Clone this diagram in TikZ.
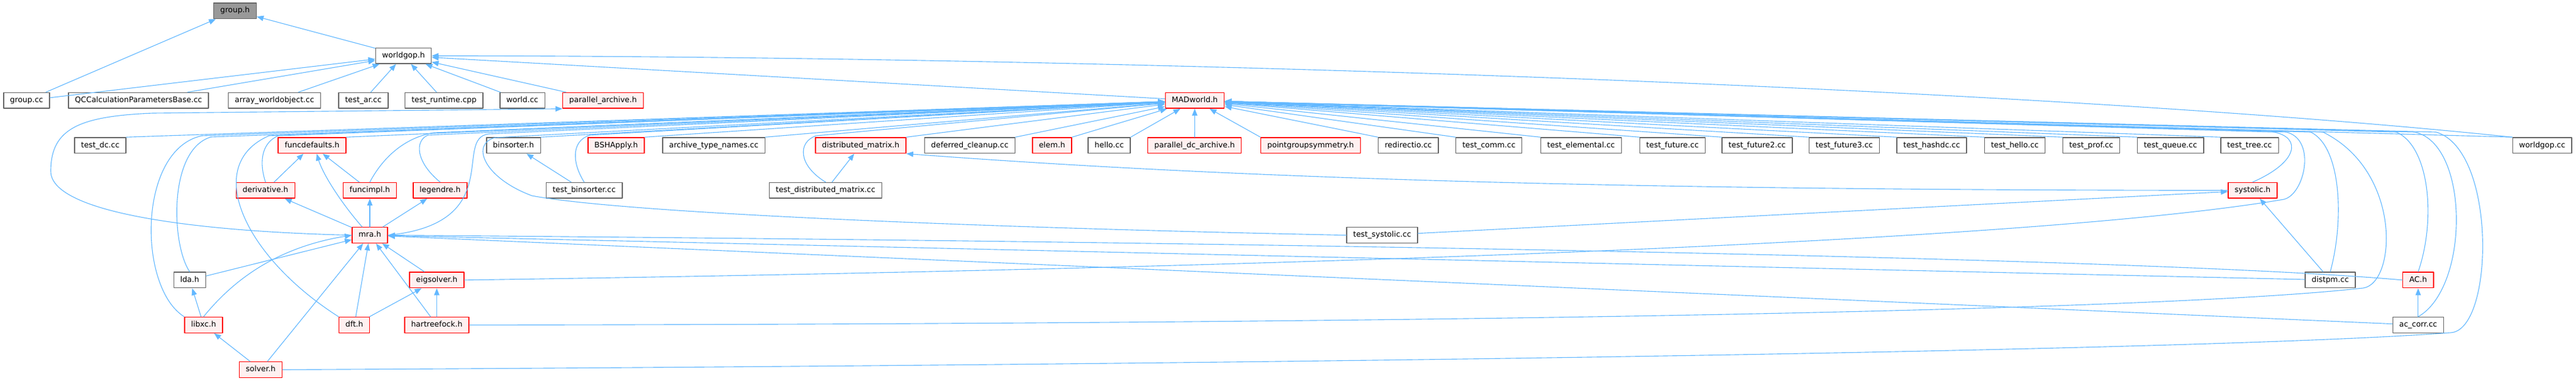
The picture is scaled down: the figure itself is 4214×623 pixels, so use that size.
\documentclass[tikz,border=0pt]{standalone}
\usepackage{fontspec}
\setmainfont{DejaVu Sans}
\usetikzlibrary{arrows.meta}
\definecolor{edgeblue}{HTML}{63B8FF}
\definecolor{boxgray}{HTML}{666666}
\definecolor{rootfill}{HTML}{999999}
\definecolor{truncfill}{HTML}{FFF0F0}

\begin{document}
\begin{tikzpicture}[line cap=round,line join=round,>={Triangle[length=9pt,width=7pt]},x=0.8pt,y=-0.8pt,
  filebox/.style={draw=boxgray, fill=white, line width=1.1pt, minimum height=20.6pt, inner xsep=8.5pt, inner ysep=0pt, text height=7.6pt, text depth=2.4pt, font=\fontsize{10}{12}\selectfont},
  truncbox/.style={filebox, draw=red, fill=truncfill},
  rootbox/.style={filebox, fill=rootfill},
  dep/.style={->, draw=edgeblue, line width=0.9pt}]
\useasboundingbox (0,0) rectangle (4214,623);

% Rows 0 and 1
\node [rootbox] (grouph) at (384.5,17.7) {group.h};
\node [filebox] (worldgoph) at (660,91.2) {worldgop.h};

% Row 2
\foreach \name/\x/\kind/\txt in {groupcc/43.5/filebox/group.cc, qccalc/226.5/filebox/QCCalculationParametersBase.cc,
  arraywo/449/filebox/array\_worldobject.cc, testar/594.4/filebox/test\_ar.cc, testruntime/726.4/filebox/test\_runtime.cpp,
  worldcc/854.5/filebox/world.cc, parallelarchive/986.5/truncbox/parallel\_archive.h, madworld/1954.5/truncbox/MADworld.h}
  \node [\kind] (\name) at (\x,164.3) {\txt};

% Row 3
\foreach \name/\x/\kind/\txt in {testdc/164/filebox/test\_dc.cc, funcdefaults/510.5/truncbox/funcdefaults.h,
  binsorter/840/filebox/binsorter.h, bshapply/1008/truncbox/BSHApply.h, archivetn/1167.6/filebox/archive\_type\_names.cc,
  distmatrix/1408/truncbox/distributed\_matrix.h, deferred/1586.4/filebox/deferred\_cleanup.cc, elemh/1721/truncbox/elem.h,
  hellocc/1814.5/filebox/hello.cc, paralleldc/1954.2/truncbox/parallel\_dc\_archive.h, pointgroup/2144/truncbox/pointgroupsymmetry.h,
  redirectio/2303.8/filebox/redirectio.cc, testcomm/2435.7/filebox/test\_comm.cc, testelemental/2586.4/filebox/test\_elemental.cc,
  testfuture/2736/filebox/test\_future.cc, testfuturetwo/2874.5/filebox/test\_future2.cc, testfuturethree/3017/filebox/test\_future3.cc,
  testhashdc/3160/filebox/test\_hashdc.cc, testhello/3296/filebox/test\_hello.cc, testprof/3421/filebox/test\_prof.cc,
  testqueue/3550.6/filebox/test\_queue.cc, testtree/3680/filebox/test\_tree.cc, worldgopcc/4158.6/filebox/worldgop.cc}
  \node [\kind] (\name) at (\x,237.8) {\txt};

% Row 4
\node [truncbox] (derivative) at (434.3,311.3) {derivative.h};
\node [truncbox] (funcimpl) at (605,311.3) {funcimpl.h};
\node [truncbox] (legendre) at (720,311.3) {legendre.h};
\node [filebox] (testbinsorter) at (955.6,311.3) {test\_binsorter.cc};
\node [filebox] (testdistmatrix) at (1350.5,311.3) {test\_distributed\_matrix.cc};
\node [truncbox] (systolic) at (3685,311.3) {systolic.h};

% Row 5
\node [truncbox] (mra) at (605,384.6) {mra.h};
\node [filebox] (testsystolic) at (2261,384.6) {test\_systolic.cc};

% Row 6
\node [filebox] (lda) at (310.3,457.9) {lda.h};
\node [truncbox] (eigsolver) at (714.5,457.9) {eigsolver.h};
\node [filebox] (distpm) at (3812,457.9) {distpm.cc};
\node [truncbox] (ach) at (3955.8,457.9) {AC.h};

% Rows 7 and 8
\node [truncbox] (libxc) at (333,531.4) {libxc.h};
\node [truncbox] (dft) at (579.6,531.4) {dft.h};
\node [truncbox] (hartreefock) at (714.5,531.4) {hartreefock.h};
\node [filebox] (accorr) at (3955.8,531.4) {ac\_corr.cc};
\node [truncbox] (solver) at (426.5,604.5) {solver.h};

% Edges to group.h and worldgop.h
\draw [dep] (groupcc) -- (grouph);
\draw [dep] (worldgoph) -- (grouph);
\foreach \src in {groupcc,qccalc,arraywo,testar,testruntime,worldcc,parallelarchive,madworld}
  \draw [dep] (\src) -- (worldgoph);
\draw [dep] (worldgopcc.north west) .. controls (3300,140) and (1800,92) .. (worldgoph.east);
\draw [dep] (mra.west) .. controls (300,378) and (83,345) .. (83,280) .. controls (83,210) and (130,190) .. (250,185) -- (parallelarchive.south west);

% Edges to MADworld.h
\foreach \src in {testdc,funcdefaults,binsorter,bshapply,archivetn,distmatrix,deferred,elemh,hellocc}
  \draw [dep] (\src.north east) -- (madworld);
\draw [dep] (paralleldc) -- (madworld);
\foreach \src in {pointgroup,redirectio,testcomm,testelemental,testfuture,testfuturetwo,testfuturethree,testhashdc,
  testhello,testprof,testqueue,testtree,worldgopcc}
  \draw [dep] (\src.north west) -- (madworld);
\draw [dep] (libxc.north west) .. controls (225,470) and (225,245) .. (330,222) -- (madworld);
\draw [dep] (lda.north) .. controls (280,400) and (275,245) .. (345,224) -- (madworld);
\draw [dep] (dft.north west) .. controls (400,420) and (330,270) .. (440,222) -- (madworld);
\draw [dep] (derivative.north) .. controls (425,270) and (425,235) .. (455,222) -- (madworld);
\draw [dep] (funcimpl.north) .. controls (625,260) and (660,225) .. (710,217) -- (madworld);
\draw [dep] (legendre.north) .. controls (680,265) and (678,230) .. (700,221) -- (madworld);
\draw [dep] (mra.east) .. controls (830,365) and (740,225) .. (800,219) -- (madworld);
\draw [dep] (testsystolic.west) .. controls (1500,370) and (1000,345) .. (870,320) .. controls (790,290) and (770,235) .. (810,225) -- (madworld);
\draw [dep] (testbinsorter.north) .. controls (935,265) and (935,230) .. (965,221) -- (madworld);
\draw [dep] (testdistmatrix.north) .. controls (1305,270) and (1305,232) .. (1335,222) -- (madworld);
\draw [dep] (systolic.north) .. controls (3760,265) and (3765,225) .. (3720,216) -- (madworld);
\draw [dep] (eigsolver.east) .. controls (2000,440) and (3300,400) .. (3736,326) .. controls (3770,318) and (3790,228) .. (3740,216) -- (madworld);
\draw [dep] (distpm.north) .. controls (3835,360) and (3830,240) .. (3780,216) -- (madworld);
\draw [dep] (hartreefock.east) .. controls (2200,530) and (3500,512) .. (3866,471) .. controls (3920,463) and (3930,280) .. (3800,216) -- (madworld);
\draw [dep] (ach.north) .. controls (3985,360) and (3975,240) .. (3920,216) -- (madworld);
\draw [dep] (accorr.north) .. controls (4040,470) and (4040,235) .. (3950,216) -- (madworld);
\draw [dep] (solver.east) .. controls (2000,597) and (3600,575) .. (4009,544) .. controls (4080,540) and (4085,245) .. (3985,216) -- (madworld);

% Edges in the lower rows
\draw [dep] (derivative) -- (funcdefaults);
\draw [dep] (funcimpl) -- (funcdefaults);
\draw [dep] ([xshift=-10pt]mra.north) .. controls (565,340) and (530,290) .. ([xshift=6pt]funcdefaults.south);
\draw [dep] (mra) -- (derivative);
\draw [dep] (mra) -- (funcimpl);
\draw [dep] (mra) -- (legendre);
\draw [dep] (testbinsorter) -- (binsorter);
\draw [dep] (testdistmatrix) -- (distmatrix);
\draw [dep] (systolic.west) .. controls (2600,311) and (2000,290) .. (distmatrix.south east);
\draw [dep] (testsystolic) -- (systolic);
\draw [dep] (distpm) -- (systolic);
\draw [dep] (accorr) -- (ach);

% Edges to mra.h
\draw [dep] (lda) -- (mra);
\draw [dep] (libxc.north) .. controls (380,460) and (450,405) .. (mra.west);
\draw [dep] (solver) -- (mra);
\draw [dep] (dft) -- (mra);
\draw [dep] (hartreefock) -- (mra);
\draw [dep] (eigsolver) -- (mra);
\draw [dep] (distpm) -- (mra);
\draw [dep] (ach.west) .. controls (3500,420) and (2000,395) .. (mra.east);
\draw [dep] (accorr) -- (mra);

\draw [dep] (libxc) -- (lda);
\draw [dep] (solver) -- (libxc);
\draw [dep] (dft) -- (eigsolver);
\draw [dep] (hartreefock) -- (eigsolver);
\end{tikzpicture}
\end{document}
